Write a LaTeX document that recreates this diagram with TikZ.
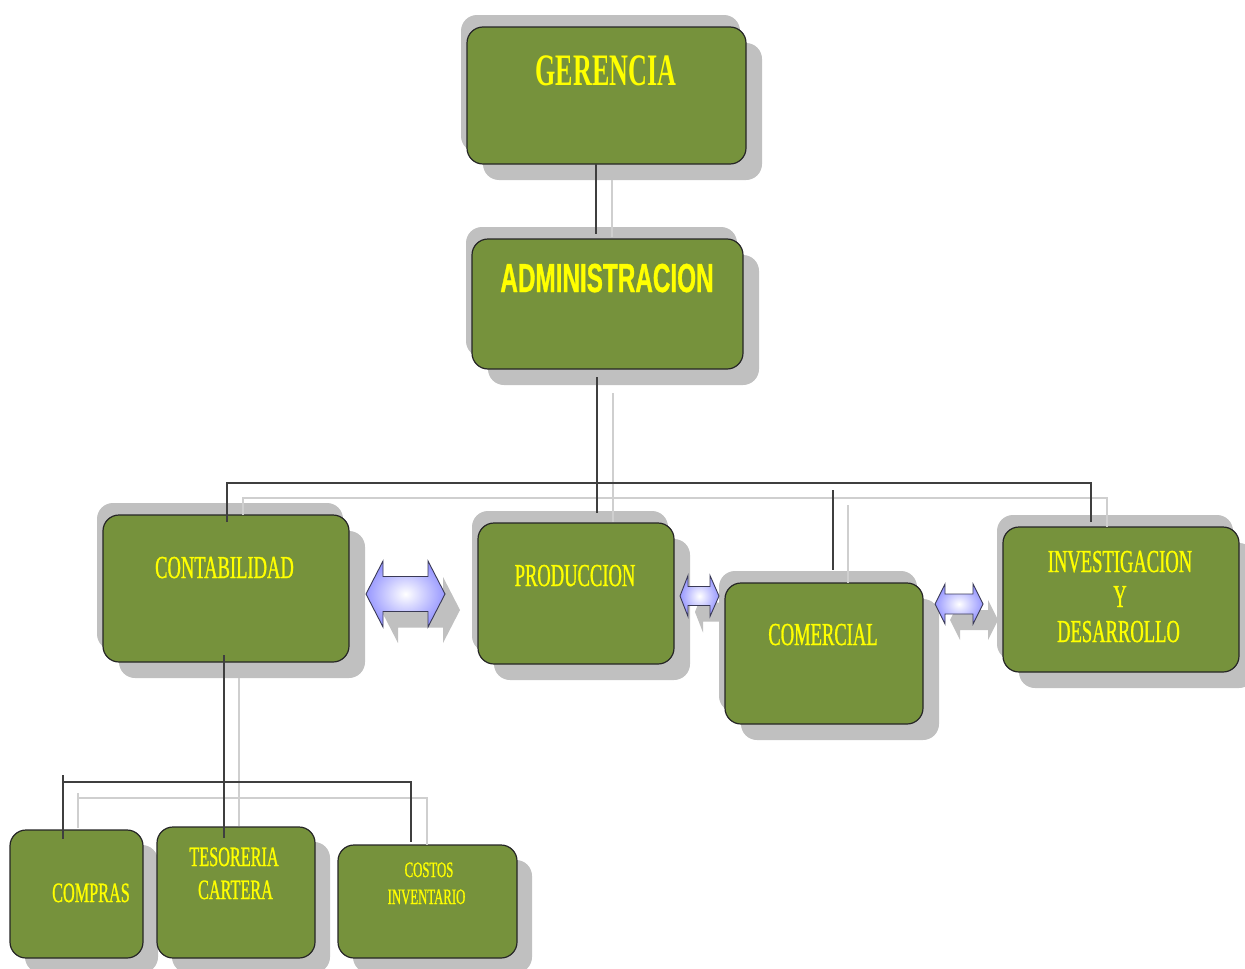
\documentclass[tikz,border=0pt]{standalone}
\usepackage{fontspec}
\usetikzlibrary{shadows,calc}
\newfontfamily\cnd[FakeStretch=0.58,FakeBold=0.9]{Liberation Serif}
\newfontfamily\cndb[FakeStretch=0.58]{Liberation Serif}
\newfontfamily\cnds[FakeStretch=0.6,FakeBold=0.8]{Liberation Sans}
\definecolor{boxgreen}{HTML}{76923C}
\definecolor{boxline}{HTML}{262626}
\definecolor{shadowgray}{HTML}{C0C0C0}
\definecolor{darkline}{HTML}{3F3F3F}
\definecolor{lightline}{HTML}{CFCFCF}
\definecolor{arrowblue}{HTML}{9797FF}
\definecolor{arrowline}{HTML}{3A3A55}
\definecolor{txtyellow}{HTML}{FFFF00}
\newcommand{\dblarrowpath}[7]{(#1,#5) -- (#2,{#5-#6}) -- (#2,{#5-#7}) -- (#3,{#5-#7}) -- (#3,{#5-#6}) -- (#4,#5) -- (#3,{#5+#6}) -- (#3,{#5+#7}) -- (#2,{#5+#7}) -- (#2,{#5+#6}) -- cycle}
\begin{document}
\begin{tikzpicture}[x=1pt,y=-1pt,
  orgbox/.style={draw=boxline, line width=1.2pt, fill=boxgreen, rounded corners=16pt, inner sep=0pt, outer sep=0pt},
  dshadow/.style={general shadow={fill=shadowgray, shadow xshift=16pt, shadow yshift=-16pt},
                  general shadow={fill=shadowgray, shadow xshift=-6pt, shadow yshift=12pt}},
  bshadow/.style={general shadow={fill=shadowgray, shadow xshift=15pt, shadow yshift=-15pt}},
  conn/.style={draw=darkline, line width=1.6pt},
  connshadow/.style={draw=lightline, line width=1.6pt},
  txt/.style={text=txtyellow, inner sep=0pt, outer sep=0pt, anchor=base},
  ftitle/.style={font=\cndb\bfseries\fontsize{45}{50}\selectfont},
  fadm/.style={font=\cnds\bfseries\fontsize{40.5}{45}\selectfont},
  fmid/.style={font=\cnd\fontsize{32}{36}\selectfont},
  fsub/.style={font=\cnd\fontsize{28}{32}\selectfont},
  fsmall/.style={font=\cnd\fontsize{22}{26}\selectfont},
  arrowshadow/.style={fill=shadowgray, draw=none},
  arrowbody/.style={draw=arrowline, line width=0.9pt, inner color=white, outer color=arrowblue}
]
\useasboundingbox[fill=white] (0,0) rectangle (1245,969);

% arrow shadows
\path[arrowshadow, shift={(15,16)}] \dblarrowpath{366}{383}{428}{445}{594}{33}{17.5};
\path[arrowshadow, shift={(15,16)}] \dblarrowpath{680}{688}{710}{719}{596}{20.5}{9.5};
\path[arrowshadow, shift={(15,16)}] \dblarrowpath{935}{945}{973}{983}{604}{20}{10};

% boxes
\node[orgbox, dshadow, minimum width=279pt, minimum height=137pt] (ger) at (606.5,95.5) {};
\node[orgbox, dshadow, minimum width=271pt, minimum height=130pt] (adm) at (607.5,304) {};
\node[orgbox, dshadow, minimum width=246pt, minimum height=147pt] (cont) at (226,588.5) {};
\node[orgbox, dshadow, minimum width=196pt, minimum height=141pt] (prod) at (576,593.5) {};
\node[orgbox, dshadow, minimum width=198pt, minimum height=141pt] (com) at (824,653.5) {};
\node[orgbox, dshadow, minimum width=236pt, minimum height=145pt] (inv) at (1121,599.5) {};
\node[orgbox, bshadow, minimum width=133pt, minimum height=128pt] (comp) at (76.5,894) {};
\node[orgbox, bshadow, minimum width=158pt, minimum height=131pt] (tes) at (236,892.5) {};
\node[orgbox, bshadow, minimum width=179pt, minimum height=113pt] (cost) at (427.5,901.5) {};

% labels
\node[txt, ftitle] (gerT) at (606,85) {GERENCIA};
\node[txt, fadm] (admT) at (607,292) {ADMINISTRACION};
\node[txt, fmid] (contT) at (224.5,578) {CONTABILIDAD};
\node[txt, fmid] (prodT) at (575,586) {PRODUCCION};
\node[txt, fmid] (comT) at (823,645) {COMERCIAL};
\node[txt, fmid] (invT1) at (1120,572) {INVESTIGACION};
\node[txt, fmid] (invT2) at (1120,607) {Y};
\node[txt, fmid] (invT3) at (1118.5,642) {DESARROLLO};
\node[txt, fsub] (compT) at (91,902) {COMPRAS};
\node[txt, fsub] (tesT1) at (234,866) {TESORERIA};
\node[txt, fsub] (tesT2) at (235.5,899) {CARTERA};
\node[txt, fsmall] (costT1) at (429,877) {COSTOS};
\node[txt, fsmall] (costT2) at (426.5,904) {INVENTARIO};

% double arrows
\path[arrowbody] \dblarrowpath{366}{383}{428}{445}{594}{33}{17.5};
\path[arrowbody] \dblarrowpath{680}{688}{710}{719}{596}{20.5}{9.5};
\path[arrowbody] \dblarrowpath{935}{945}{973}{983}{604}{20}{10};

% connector shadows (light)
\draw[connshadow] ($(ger.south)+(5.5,16)$) -- ($(adm.north)+(4.5,-2)$);
\draw[connshadow] ($(adm.south)+(5.5,24)$) -- ($(prod.north)+(37,-1)$);
\draw[connshadow] ($(cont.north)+(17,0)$) |- ($(inv.north)+(-14,-29)$) -- ($(inv.north)+(-14,0)$);
\draw[connshadow] ($(com.north)+(24,-78)$) -- ($(com.north)+(24,0)$);
\draw[connshadow] ($(cont.south)+(13,16)$) -- ($(tes.north)+(3,-1)$);
\draw[connshadow] ($(comp.north)+(1.5,-37)$) -- ($(comp.north)+(1.5,-2)$);
\draw[connshadow] ($(comp.north)+(1.5,-32)$) -| ($(cost.north)+(-0.5,0)$);

% connectors (dark)
\draw[conn] ($(ger.south)+(-10.5,0)$) -- ($(adm.north)+(-11.5,-5)$);
\draw[conn] ($(adm.south)+(-10.5,8)$) -- ($(prod.north)+(21,-10)$);
\draw[conn] ($(cont.north)+(1,7)$) |- ($(inv.north)+(-30,-44)$) -- ($(inv.north)+(-30,-5)$);
\draw[conn] ($(com.north)+(9,-93)$) -- ($(com.north)+(9,-13)$);
\draw[conn] ($(cont.south)+(-2,-7)$) -- ($(tes.north)+(-12,11)$);
\draw[conn] ($(comp.north)+(-13.5,-55)$) -- ($(comp.north)+(-13.5,9)$);
\draw[conn] ($(comp.north)+(-13.5,-48)$) -| ($(cost.north)+(-16.5,-3)$);
\end{tikzpicture}
\end{document}
